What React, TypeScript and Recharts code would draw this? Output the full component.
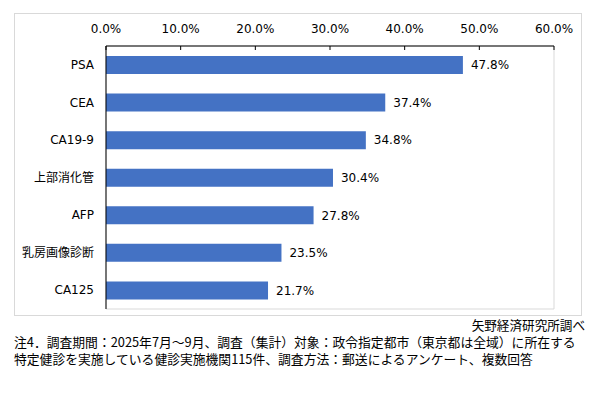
import { Bar, BarChart, LabelList, ReferenceArea, XAxis, YAxis } from 'recharts';

const CATEGORIES = ['PSA', 'CEA', 'CA19-9', '上部消化管', 'AFP', '乳房画像診断', 'CA125'];
const VALUES = [47.8, 37.4, 34.8, 30.4, 27.8, 23.5, 21.7];
const X_TICKS = [0, 10, 20, 30, 40, 50, 60];

const SOURCE = '矢野経済研究所調べ';
const NOTE_LINES = [
  '注4．調査期間：2025年7月～9月、調査（集計）対象：政令指定都市（東京都は全域）に所在する',
  '特定健診を実施している健診実施機関115件、調査方法：郵送によるアンケート、複数回答',
];

const FONT = '"DejaVu Sans", "Noto Sans CJK JP", sans-serif';
const JP_FONT = '"Noto Sans CJK JP", sans-serif';

const data = CATEGORIES.map((name, i) => ({ name, value: VALUES[i] }));

const fmt = (v: number) => `${Number(v).toFixed(1)}%`;

export default function App() {
  return (
    <div
      style={{
        position: 'absolute',
        left: 0,
        top: 0,
        width: 599,
        height: 410,
        background: '#fff',
        fontFamily: FONT,
      }}
    >
      <div
        style={{
          position: 'absolute',
          left: 14,
          top: 13,
          width: 566,
          height: 301,
          border: '1px solid #d9d9d9',
        }}
      />
      <div style={{ position: 'absolute', left: 0, top: 0 }}>
        <BarChart
          width={599}
          height={330}
          data={data}
          layout="vertical"
          barSize={18}
          margin={{ top: 16, right: 45, bottom: 21, left: 10 }}
        >
          <ReferenceArea
            x1={0}
            x2={60}
            fill="none"
            stroke="#d9d9d9"
            strokeWidth={1}
            ifOverflow="visible"
          />
          <XAxis
            type="number"
            orientation="top"
            domain={[0, 60]}
            ticks={X_TICKS}
            tickFormatter={fmt}
            height={30}
            axisLine={{ stroke: '#000' }}
            tickLine={{ stroke: '#000' }}
            tickSize={-4}
            tickMargin={17}
            tick={{ fill: '#000', fontSize: 12, fontFamily: FONT }}
          />
          <YAxis
            type="category"
            dataKey="name"
            width={96}
            axisLine={{ stroke: '#000' }}
            tickLine={false}
            tickSize={0}
            tickMargin={12}
            interval={0}
            tick={{ fill: '#000', fontSize: 12, fontFamily: FONT }}
          />
          <Bar dataKey="value" fill="#4472C4" isAnimationActive={false}>
            <LabelList
              dataKey="value"
              position="right"
              offset={8}
              formatter={(v: any) => fmt(v)}
              style={{ fill: '#000', fontSize: 12, fontFamily: FONT }}
            />
          </Bar>
        </BarChart>
      </div>
      <div
        style={{
          position: 'absolute',
          right: 14,
          top: 317,
          fontSize: 12.6,
          lineHeight: '16px',
          fontFamily: JP_FONT,
          color: '#000',
          whiteSpace: 'nowrap',
        }}
      >
        {SOURCE}
      </div>
      <div
        style={{
          position: 'absolute',
          left: 14,
          top: 334,
          fontSize: 12.8,
          lineHeight: '16.5px',
          fontFamily: JP_FONT,
          color: '#000',
          whiteSpace: 'nowrap',
        }}
      >
        {NOTE_LINES.map((line) => (
          <div key={line}>{line}</div>
        ))}
      </div>
    </div>
  );
}
